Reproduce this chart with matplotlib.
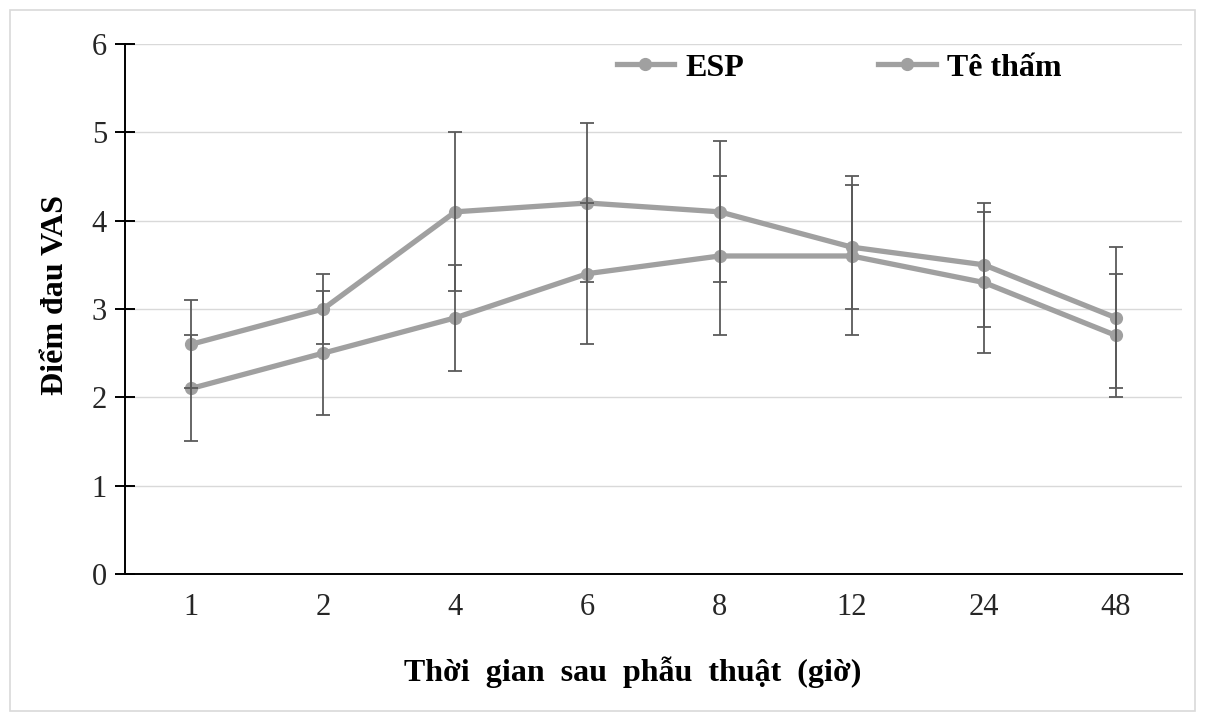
import matplotlib
matplotlib.use("Agg")
import matplotlib.pyplot as plt
from matplotlib.patches import Rectangle

plt.rcParams["font.family"] = ["Liberation Serif", "DejaVu Serif"]

# data
hours = ["1", "2", "4", "6", "8", "12", "24", "48"]
esp_mean = [2.1, 2.5, 2.9, 3.4, 3.6, 3.6, 3.3, 2.7]
esp_sd = [0.6, 0.7, 0.6, 0.8, 0.9, 0.9, 0.8, 0.7]
te_tham_mean = [2.6, 3.0, 4.1, 4.2, 4.1, 3.7, 3.5, 2.9]
te_tham_sd = [0.5, 0.4, 0.9, 0.9, 0.8, 0.7, 0.7, 0.8]

line_color = "#A0A0A0"
err_color = "#5A5A5A"
x = list(range(len(hours)))

fig = plt.figure(figsize=(12.05, 7.21), dpi=100)
ax = fig.add_axes([0.1037, 0.2039, 0.8773, 0.7351])

for mean, sd, label in [(esp_mean, esp_sd, "ESP"), (te_tham_mean, te_tham_sd, "Tê thấm")]:
    ax.plot(x, mean, color=line_color, lw=3.8, marker="o", ms=8.5,
            label=label, zorder=3)
    ax.errorbar(x, mean, yerr=sd, fmt="none", ecolor=err_color,
                elinewidth=1.3, capsize=4.7, capthick=1.3, zorder=4)

ax.set_xlim(-0.5, len(hours) - 0.5)
ax.set_ylim(0, 6)
ax.set_xticks(x)
ax.set_xticklabels(hours)
ax.set_yticks(range(0, 7))

ax.yaxis.grid(True, color="#D9D9D9", lw=1)
ax.set_axisbelow(True)
for side in ["top", "right"]:
    ax.spines[side].set_visible(False)
for side in ["left", "bottom"]:
    ax.spines[side].set_color("black")
    ax.spines[side].set_linewidth(1.4)

ax.tick_params(axis="y", direction="inout", length=14, width=1.4,
               labelsize=22, pad=6, labelcolor="#262626")
ax.tick_params(axis="x", length=0, labelsize=22, pad=14, labelcolor="#262626")

ax.set_xlabel("Thời  gian  sau  phẫu  thuật  (giờ)", fontsize=23,
              fontweight="bold")
ax.xaxis.set_label_coords(0.48, -0.155)
ax.set_ylabel("Điểm đau VAS", fontsize=23, fontweight="bold")
ax.yaxis.set_label_coords(-0.052, 0.526)

ax.legend(loc="center left", bbox_to_anchor=(0.465, 0.955), ncol=2,
          frameon=False, prop={"weight": "bold", "size": 23},
          borderpad=0, borderaxespad=0,
          handlelength=1.8, handletextpad=0.35, columnspacing=4.2)

fig.patches.append(Rectangle((0.008, 0.014), 0.984, 0.972, transform=fig.transFigure,
                             fill=False, edgecolor="#D9D9D9", lw=1.2))

fig.savefig("out.png", dpi=100)
